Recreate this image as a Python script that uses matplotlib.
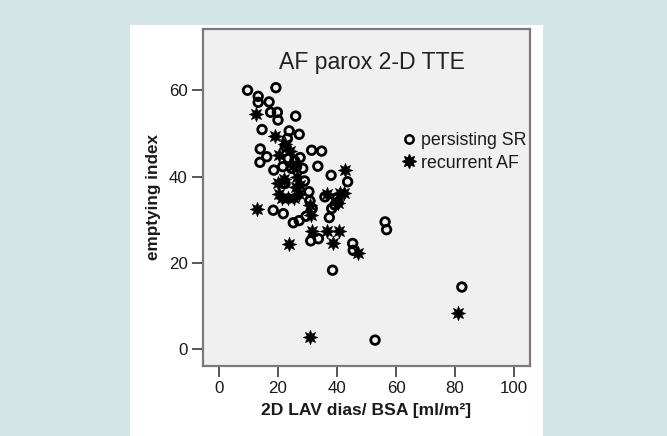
import matplotlib
matplotlib.use("Agg")
import matplotlib.pyplot as plt
from matplotlib.patches import Rectangle
from matplotlib.lines import Line2D

plt.rcParams['font.family'] = ['Liberation Sans', 'DejaVu Sans']

# persisting SR (open circles)
sr_x = [9.7, 19.3, 13.3, 13.3, 17.0, 17.5, 19.8, 20.0, 26.0, 14.6, 23.8, 27.2, 23.2,
        31.4, 34.8, 14.0, 16.2, 13.9, 27.5, 25.7, 33.5, 18.6, 21.6, 28.4, 38.0, 43.6,
        21.8, 35.9, 39.9, 40.4, 39.3, 38.2, 30.8, 31.6, 18.4, 21.8, 25.2, 27.2, 29.5,
        37.4, 31.1, 33.7, 45.3, 45.5, 38.5, 56.3, 56.8, 82.3, 52.9, 23.5, 22.4, 24.6,
        26.3, 22.5, 29.0, 30.5]
sr_y = [60.0, 60.6, 58.6, 57.2, 57.3, 54.9, 54.9, 53.1, 54.0, 50.9, 50.6, 49.8, 48.8,
        46.1, 45.9, 46.4, 44.6, 43.3, 44.4, 43.6, 42.4, 41.5, 42.3, 41.9, 40.3, 38.8,
        38.4, 35.3, 34.9, 34.1, 33.4, 32.6, 34.4, 32.6, 32.2, 31.4, 29.3, 29.8, 30.8,
        30.5, 25.1, 25.6, 24.5, 22.9, 18.3, 29.5, 27.7, 14.4, 2.1, 44.2, 38.4, 41.9,
        42.3, 47.0, 39.0, 36.5]

# recurrent AF (stars)
af_x = [12.5, 19.0, 20.3, 42.8, 20.1, 41.0, 36.5, 42.5, 12.8, 31.2, 31.4, 36.5, 40.8,
        38.6, 23.6, 47.0, 30.8, 81.1, 22.5, 24.0, 25.0, 26.5, 27.5, 27.0, 25.5, 23.5,
        21.5, 20.5, 26.0, 31.0, 40.5, 22.0]
af_y = [54.6, 49.4, 45.0, 41.5, 38.4, 36.1, 35.9, 36.2, 32.4, 31.1, 27.5, 27.5, 27.5,
        24.6, 24.3, 22.4, 2.9, 8.4, 47.5, 46.0, 42.5, 40.0, 38.0, 36.0, 35.0, 35.0,
        35.0, 36.0, 37.5, 33.5, 33.8, 39.5]

x_ticks = [0, 20, 40, 60, 80, 100]
y_ticks = [0, 20, 40, 60]

W, H = 667, 436
fig = plt.figure(figsize=(W / 100, H / 100), dpi=100, facecolor='#d4e5e5')
fig.patches.append(Rectangle((130 / W, 0), 413 / W, (H - 25) / H,
                             transform=fig.transFigure, facecolor='white',
                             edgecolor='none', zorder=-5))

ax = fig.add_axes([203 / W, (H - 366) / H, 327 / W, 337 / H])
ax.set_zorder(2)
ax.set_facecolor('#f0f0f0')
for s in ax.spines.values():
    s.set_color('#7a7a7a')
    s.set_linewidth(1.6)

ax.scatter(sr_x, sr_y, s=38, facecolors='none', edgecolors='black', linewidths=2.0,
           zorder=3)
ax.scatter(af_x, af_y, s=105, marker=(8, 1, 0), color='black', linewidths=0.5,
           zorder=3)

ax.set_xlim(-5.4, 105.4)
ax.set_ylim(-3.9, 74.2)
ax.set_xticks(x_ticks)
ax.set_yticks(y_ticks)
ax.tick_params(direction='out', length=8, width=1.4, color='#555555',
               labelsize=12.2, labelcolor='#1a1a1a', pad=3)

ax.set_xlabel('2D LAV dias/ BSA [ml/m²]', fontsize=12.6, fontweight='bold',
              labelpad=5, color='#1a1a1a')
ax.set_ylabel('emptying index', fontsize=12.3, fontweight='bold', labelpad=6,
              color='#1a1a1a')

ax.text(0.517, 0.9, 'AF parox 2-D TTE', transform=ax.transAxes, ha='center',
        va='center', fontsize=16.6, color='#222222')

handles = [
    Line2D([], [], linestyle='none', marker='o', markersize=6, markerfacecolor='none',
           markeredgecolor='black', markeredgewidth=1.8, label='persisting SR'),
    Line2D([], [], linestyle='none', marker=(8, 1, 0), markersize=10, color='black',
           label='recurrent AF'),
]
ax.legend(handles=handles, loc='upper left', bbox_to_anchor=(0.58, 0.72),
          frameon=False, fontsize=12.8, handlelength=0.8, handletextpad=0.3,
          labelspacing=0.3, borderpad=0, labelcolor='#1a1a1a')

fig.savefig('out.png', dpi=100, facecolor=fig.get_facecolor())
